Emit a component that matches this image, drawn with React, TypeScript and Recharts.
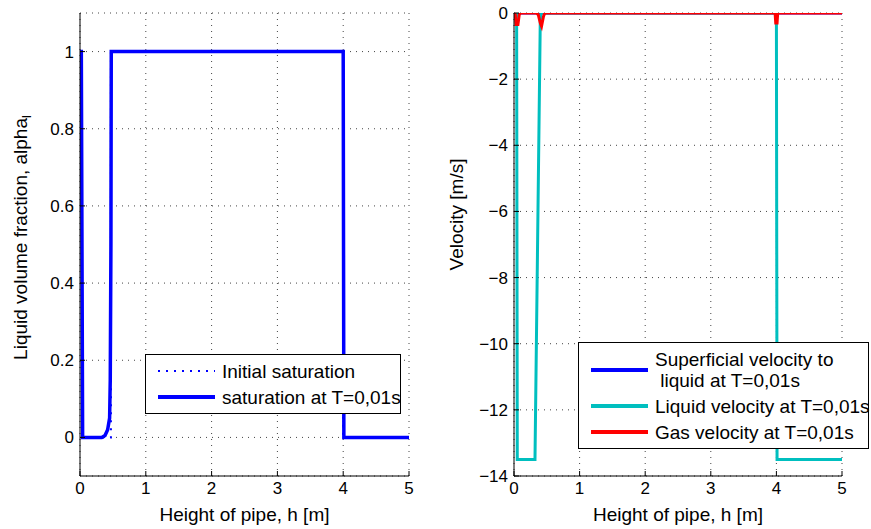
import { LineChart, Line, XAxis, YAxis, CartesianGrid, Legend } from 'recharts';

const FONT = '"Liberation Sans", Arial, sans-serif';

const xTicks = [0, 1, 2, 3, 4, 5];
const alphaTicks = [0, 0.2, 0.4, 0.6, 0.8, 1];
const velTicks = [-14, -12, -10, -8, -6, -4, -2, 0];

// left panel: liquid volume fraction
const initX = [0, 0.03, 0.03, 0.47, 0.47, 4.0, 4.0, 5];
const initY = [1, 1, 0, 0, 1, 1, 0, 0];
const satX = [0, 0.02, 0.04, 0.33, 0.38, 0.42, 0.45, 0.46, 0.47, 0.475, 4.0, 4.01, 5];
const satY = [1, 1, 0, 0, 0.005, 0.02, 0.05, 0.15, 0.5, 1, 1, 0, 0];

// right panel: velocities
const supX = [0, 5];
const supY = [0, 0];
const liqX = [0, 0.04, 0.05, 0.32, 0.4, 0.41, 4.0, 4.01, 5];
const liqY = [0, 0, -13.5, -13.5, -0.3, 0, 0, -13.5, -13.5];
const gasX = [0, 0.02, 0.03, 0.06, 0.08, 0.1, 0.34, 0.37, 0.4, 0.42, 0.45, 0.47, 3.98, 3.99, 4.01, 4.02, 5];
const gasY = [0, -0.05, -0.35, -0.35, -0.05, 0, 0, -0.05, -0.3, -0.4, -0.1, 0, 0, -0.3, -0.3, 0, 0];

const leftNames = ['Initial saturation', 'saturation at T=0,01s'];
const rightNames = ['Superficial velocity to liquid at T=0,01s', 'Liquid velocity at T=0,01s', 'Gas velocity at T=0,01s'];
const leftLabels = [['Initial saturation'], ['saturation at T=0,01s']];
const rightLabels = [
  ['Superficial velocity to', ' liquid at T=0,01s'],
  ['Liquid velocity at T=0,01s'],
  ['Gas velocity at T=0,01s'],
];

const pts = (xs: number[], ys: number[]) => xs.map((x, i) => ({ x, y: ys[i] }));

const tickStyle = { fill: '#000', fontSize: 17, fontFamily: FONT };
const labelStyle = { fontSize: 19, fontFamily: FONT, fill: '#000' };
const noTick = () => null;
const minus = (v: number) => String(v).replace('-', '\u2212');

function LegendBox({ payload, names, labels, style }: any) {
  const items = names.map((n: string) => (payload || []).find((e: any) => e.value === n)).filter(Boolean);
  return (
    <div
      style={{
        border: '1.5px solid #000',
        background: '#fff',
        fontFamily: FONT,
        fontSize: 19,
        color: '#000',
        padding: '3px 0',
        boxSizing: 'border-box',
        ...style,
      }}
    >
      {items.map((entry: any, i: number) => {
        const lines: string[] = labels[i];
        const dash = entry.payload?.strokeDasharray;
        return (
          <div
            key={i}
            style={{ display: 'flex', alignItems: 'center', height: lines.length * 21 + 5 }}
          >
            <svg width={62} height={10} style={{ marginLeft: 10, marginRight: 4, flex: 'none' }}>
              <line
                x1={2}
                x2={59}
                y1={5}
                y2={5}
                stroke={entry.color}
                strokeWidth={dash ? 2 : 4}
                strokeDasharray={dash ? '2 6' : undefined}
              />
            </svg>
            <div style={{ lineHeight: '21px', whiteSpace: 'pre' }}>
              {lines.map((t, k) => (
                <div key={k}>{t}</div>
              ))}
            </div>
          </div>
        );
      })}
    </div>
  );
}

export default function App() {
  return (
    <div style={{ position: 'fixed', left: 0, top: 0, width: 871, height: 529, background: '#fff' }}>
      <div style={{ position: 'absolute', left: 0, top: 0 }}>
        <LineChart width={430} height={529} margin={{ top: 13, right: 21, bottom: 3, left: 30 }}>
          <CartesianGrid stroke="#444" strokeDasharray="1 5" />
          <XAxis
            dataKey="x"
            type="number"
            domain={[0, 5]}
            ticks={xTicks}
            height={50}
            tickSize={-5}
            tickMargin={11}
            tick={tickStyle}
            stroke="#000"
            allowDataOverflow
            label={{ value: 'Height of pipe, h [m]', position: 'insideBottom', offset: 5, style: labelStyle }}
          />
          <XAxis xAxisId="top" orientation="top" type="number" domain={[0, 5]} ticks={xTicks} height={0} tickSize={-5} tick={noTick} stroke="#000" />
          <YAxis
            type="number"
            domain={[-0.1, 1.1]}
            ticks={alphaTicks}
            width={50}
            tickSize={-5}
            tickMargin={11}
            tick={tickStyle}
            stroke="#000"
            allowDataOverflow
            label={{
              content: ({ viewBox }: any) => (
                <text
                  x={viewBox.x - 10}
                  y={viewBox.y + viewBox.height / 2 - 7}
                  transform={`rotate(-90 ${viewBox.x - 10} ${viewBox.y + viewBox.height / 2 - 7})`}
                  textAnchor="middle"
                  dominantBaseline="central"
                  {...labelStyle}
                >
                  Liquid volume fraction, alpha
                  <tspan fontSize={13} dy={6}>l</tspan>
                </text>
              ),
            }}
          />
          <YAxis yAxisId="right" orientation="right" type="number" domain={[-0.1, 1.1]} ticks={alphaTicks} width={0} tickSize={-5} tick={noTick} stroke="#000" />
          <Line data={pts(initX, initY)} dataKey="y" name={leftNames[0]} stroke="#0000ff" strokeWidth={2} strokeDasharray="2 6" dot={false} isAnimationActive={false} />
          <Line data={pts(satX, satY)} dataKey="y" name={leftNames[1]} stroke="#0000ff" strokeWidth={3.5} dot={false} isAnimationActive={false} />
          <Legend
            layout="horizontal"
            verticalAlign="middle"
            align="center"
            wrapperStyle={{ left: 145, top: 354, width: 256 }}
            content={(p: any) => <LegendBox payload={p.payload} names={leftNames} labels={leftLabels} style={{ width: 256 }} />}
          />
        </LineChart>
      </div>
      <div style={{ position: 'absolute', left: 440, top: 0 }}>
        <LineChart width={431} height={529} margin={{ top: 13, right: 29, bottom: 3, left: 24 }}>
          <CartesianGrid stroke="#444" strokeDasharray="1 5" />
          <XAxis
            dataKey="x"
            type="number"
            domain={[0, 5]}
            ticks={xTicks}
            height={50}
            tickSize={-5}
            tickMargin={11}
            tick={tickStyle}
            stroke="#000"
            allowDataOverflow
            label={{ value: 'Height of pipe, h [m]', position: 'insideBottom', offset: 5, style: labelStyle }}
          />
          <XAxis xAxisId="top" orientation="top" type="number" domain={[0, 5]} ticks={xTicks} height={0} tickSize={-5} tick={noTick} stroke="#000" />
          <YAxis
            type="number"
            domain={[-14, 0]}
            ticks={velTicks}
            width={50}
            tickSize={-5}
            tickMargin={11}
            tick={tickStyle}
            tickFormatter={minus}
            stroke="#000"
            allowDataOverflow
            label={{
              content: ({ viewBox }: any) => (
                <text
                  x={viewBox.x - 8}
                  y={viewBox.y + viewBox.height / 2 - 30}
                  transform={`rotate(-90 ${viewBox.x - 8} ${viewBox.y + viewBox.height / 2 - 30})`}
                  textAnchor="middle"
                  dominantBaseline="central"
                  {...labelStyle}
                >
                  Velocity [m/s]
                </text>
              ),
            }}
          />
          <YAxis yAxisId="right" orientation="right" type="number" domain={[-14, 0]} ticks={velTicks} width={0} tickSize={-5} tick={noTick} stroke="#000" />
          <Line data={pts(supX, supY)} dataKey="y" name={rightNames[0]} stroke="#0000ff" strokeWidth={3} dot={false} isAnimationActive={false} />
          <Line data={pts(liqX, liqY)} dataKey="y" name={rightNames[1]} stroke="#00bfbf" strokeWidth={3} dot={false} isAnimationActive={false} />
          <Line data={pts(gasX, gasY)} dataKey="y" name={rightNames[2]} stroke="#ff0000" strokeWidth={3} dot={false} isAnimationActive={false} />
          <Legend
            layout="horizontal"
            verticalAlign="middle"
            align="center"
            wrapperStyle={{ left: 138, top: 342, width: 291 }}
            content={(p: any) => <LegendBox payload={p.payload} names={rightNames} labels={rightLabels} style={{ width: 291 }} />}
          />
        </LineChart>
      </div>
    </div>
  );
}
